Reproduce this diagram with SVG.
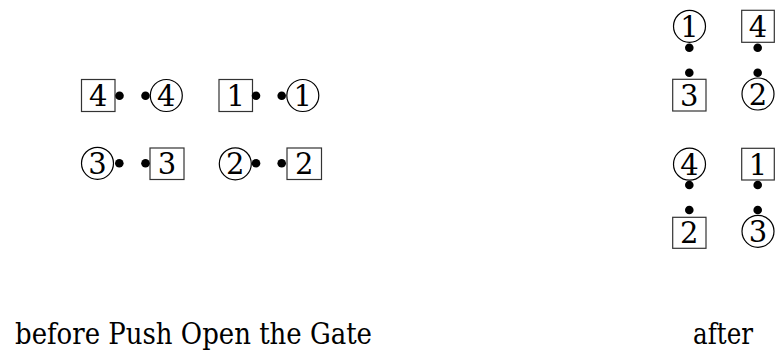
<svg xmlns="http://www.w3.org/2000/svg" width="777" height="355" viewBox="0 0 777 355">
<style>
.bx{fill:#fff;stroke:#333;stroke-width:1.2}
.cr{fill:#fff;stroke:#000;stroke-width:1.2}
.dot{fill:#000}
.d{font-size:29px;text-anchor:middle;fill:#000}
.lbl{font-size:30px;fill:#000}
</style>
<rect width="777" height="355" fill="#fff"/>
<g id="connectors"/>
<g font-family="DejaVu Serif, Liberation Serif, serif">
<g id="b-box4"><rect class="bx" x="81.5" y="79.5" width="33.5" height="32"/><text class="d" x="98.25" y="106.3">4</text><circle class="dot" cx="119.5" cy="95.8" r="4.3"/></g>
<g id="b-circ4"><circle class="cr" cx="166.3" cy="95.5" r="16"/><text class="d" x="166.3" y="106.1">4</text><circle class="dot" cx="145.5" cy="95.8" r="4.3"/></g>
<g id="b-box1"><rect class="bx" x="219" y="79.5" width="33.5" height="32"/><text class="d" x="235.75" y="106.3">1</text><circle class="dot" cx="256" cy="95.8" r="4.3"/></g>
<g id="b-circ1"><circle class="cr" cx="302.8" cy="95.5" r="16"/><text class="d" x="302.8" y="106.1">1</text><circle class="dot" cx="281.7" cy="95.8" r="4.3"/></g>
<g id="b-circ3"><circle class="cr" cx="97.5" cy="163.3" r="16"/><text class="d" x="97.5" y="173.9">3</text><circle class="dot" cx="119.3" cy="163.2" r="4.3"/></g>
<g id="b-box3"><rect class="bx" x="150" y="148" width="34" height="31.5"/><text class="d" x="167" y="174.3">3</text><circle class="dot" cx="145.5" cy="163.2" r="4.3"/></g>
<g id="b-circ2"><circle class="cr" cx="235.3" cy="163.8" r="16"/><text class="d" x="235.3" y="174.4">2</text><circle class="dot" cx="256" cy="163.3" r="4.3"/></g>
<g id="b-box2"><rect class="bx" x="287" y="148" width="34.5" height="31.5"/><text class="d" x="304.25" y="174.3">2</text><circle class="dot" cx="281.7" cy="163.3" r="4.3"/></g>
<g id="a-circ1"><circle class="cr" cx="689.5" cy="26.3" r="16"/><text class="d" x="689.5" y="36.9">1</text><circle class="dot" cx="689.3" cy="47.7" r="4.3"/></g>
<g id="a-box4"><rect class="bx" x="741.7" y="10.3" width="32.6" height="32"/><text class="d" x="758" y="37.1">4</text><circle class="dot" cx="757.7" cy="47.7" r="4.3"/></g>
<g id="a-box3"><rect class="bx" x="672.7" y="79.3" width="33.3" height="31.7"/><text class="d" x="689.35" y="105.8">3</text><circle class="dot" cx="689.3" cy="72.7" r="4.3"/></g>
<g id="a-circ2"><circle class="cr" cx="758" cy="94" r="16"/><text class="d" x="758" y="104.6">2</text><circle class="dot" cx="757.7" cy="72.7" r="4.3"/></g>
<g id="a-circ4"><circle class="cr" cx="689.5" cy="164.2" r="16"/><text class="d" x="689.5" y="174.8">4</text><circle class="dot" cx="689.3" cy="185" r="4.3"/></g>
<g id="a-box1"><rect class="bx" x="741.7" y="148.3" width="32.6" height="31.7"/><text class="d" x="758" y="174.8">1</text><circle class="dot" cx="757.7" cy="185" r="4.3"/></g>
<g id="a-box2"><rect class="bx" x="672.7" y="217.3" width="33.3" height="31"/><text class="d" x="689.35" y="243.4">2</text><circle class="dot" cx="689.3" cy="210" r="4.3"/></g>
<g id="a-circ3"><circle class="cr" cx="758" cy="231.3" r="16"/><text class="d" x="758" y="241.9">3</text><circle class="dot" cx="757.7" cy="210" r="4.3"/></g>
<text class="lbl" x="15" y="344" textLength="357" lengthAdjust="spacingAndGlyphs">before Push Open the Gate</text>
<text class="lbl" x="693" y="344" textLength="60" lengthAdjust="spacingAndGlyphs">after</text>
</g>
</svg>
